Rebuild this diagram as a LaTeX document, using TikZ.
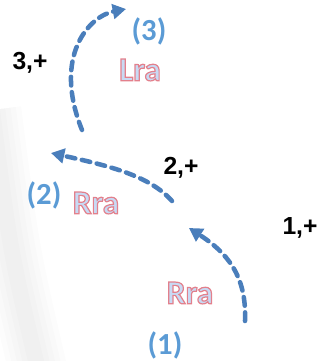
\documentclass[tikz,border=0pt]{standalone}
\usepackage{fontspec}
\setmainfont{Carlito}
\newfontfamily\arialfont{Liberation Sans}
\usetikzlibrary{arrows.meta}
\definecolor{arrowblue}{RGB}{74,126,187}
\definecolor{labelblue}{RGB}{91,155,213}
\definecolor{coreblue}{RGB}{200,218,244}
% WordArt-like text: pale blue fill with a red outline
\newcommand{\wordart}[1]{{\color{coreblue}%
  \special{pdf:literal 2 Tr 0.9 w 0.89 0.50 0.55 RG}#1\special{pdf:literal 0 Tr}}}
\tikzset{
  move/.style={draw=arrowblue, line width=3.4pt, dash pattern=on 6.5pt off 5pt,
    line cap=round, -{Triangle[length=10pt,width=11pt]}},
  steplabel/.style={text=labelblue, font=\bfseries\fontsize{23}{26}\selectfont, inner sep=0pt},
  rotlabel/.style={font=\bfseries\fontsize{25}{28}\selectfont, inner sep=0pt},
  signlabel/.style={font=\arialfont\bfseries\fontsize{18.5}{21}\selectfont, inner sep=0pt}
}
\begin{document}
\begin{tikzpicture}[x=0.75pt, y=-0.75pt]
    \useasboundingbox (0,0) rectangle (323,361);

    % --- CIEN PO LEWEJ ---
    \foreach \w in {44,36,28,20,12}
        \draw[black, opacity=0.012, line width=\w pt]
            (-8,110) .. controls (10,250) .. (38,370);

    % --- ETYKIETY ---
    \node[steplabel] (s3) at (149,31) {(3)};
    \node[steplabel] (s2) at (44,195) {(2)};
    \node[steplabel] (s1) at (165,345) {(1)};

    \node[rotlabel] (r3) at (140,70) {\wordart{Lra}};
    \node[rotlabel] (r2) at (96,203) {\wordart{Rra}};
    \node[rotlabel] (r1) at (190,293) {\wordart{Rra}};

    \node[signlabel] (p3) at (30,63) {3,+};
    \node[signlabel] (p2) at (181,168) {2,+};
    \node[signlabel] (p1) at (300,228) {1,+};

    % --- STRZAŁKI ---
    \coordinate (a1) at (245,321);
    \coordinate (b1) at (189,228);
    \draw[move] (a1) .. controls (247,275) and (226,252) .. (b1);

    \coordinate (a2) at (172,201);
    \coordinate (b2) at (51,153);
    \draw[move] (a2) .. controls (150,176) and (110,166) .. (b2);

    \coordinate (a3) at (82,130);
    \coordinate (b3) at (126,9);
    \draw[move] (a3) .. controls (52,55) and (90,16) .. (b3);

\end{tikzpicture}
\end{document}
